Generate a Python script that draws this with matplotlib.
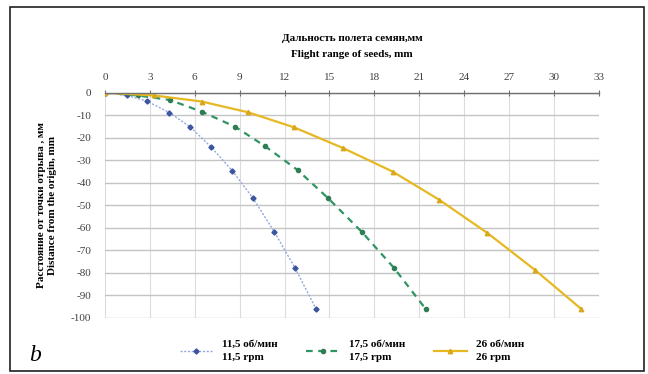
import matplotlib.pyplot as plt
from matplotlib.patches import Rectangle

# values (x = flight range, y = drop from origin), mm
x_115 = [0, 1.45, 2.83, 4.3, 5.68, 7.08, 8.5, 9.9, 11.31, 12.71, 14.11]
y_115 = [0, -1.2, -3.8, -8.8, -15.1, -24.0, -34.6, -46.9, -61.7, -77.9, -96.1]
x_175 = [0, 2.2, 4.34, 6.46, 8.7, 10.69, 12.87, 14.92, 17.15, 19.33, 21.44]
y_175 = [0, -1.2, -3.2, -8.4, -15.1, -23.7, -34.3, -46.9, -61.7, -77.9, -96.1]
x_26 = [0, 3.3, 6.46, 9.58, 12.65, 15.92, 19.22, 22.33, 25.56, 28.72, 31.84]
y_26 = [0, -1.2, -3.9, -8.7, -15.4, -24.6, -35.0, -47.5, -62.3, -78.6, -96.1]

labels = ['11,5 об/мин\n11,5 rpm', '17,5 об/мин\n17,5 rpm', '26 об/мин\n26 rpm']
x_ticks = list(range(0, 34, 3))
y_ticks = list(range(0, -101, -10))

serif = ['Liberation Serif', 'DejaVu Serif']
plt.rcParams['axes.unicode_minus'] = False

fig = plt.figure(figsize=(6.48, 3.74), dpi=100)
ax = fig.add_axes([0.162, 0.150, 0.762, 0.602])

ax.plot(x_115, y_115, color='#93a9dd', lw=1.0, ls=(0, (1.5, 1.2)), marker='D',
        ms=2.6, mfc='#3c559f', mec='#3c559f', label=labels[0])
ax.plot(x_175, y_175, color='#2f9463', lw=1.6, ls=(0, (3, 2.5)), marker='o',
        ms=3.0, mfc='#2f7d55', mec='#2f7d55', label=labels[1])
ax.plot(x_26, y_26, color='#e6b822', lw=1.6, ls='-', marker='^',
        ms=3.2, mfc='#d9a81a', mec='#d9a81a', label=labels[2])

ax.set_xlim(0, 33)
ax.set_ylim(-100, 0)
ax.set_xticks(x_ticks)
ax.set_yticks(y_ticks)
ax.xaxis.tick_top()
ax.xaxis.set_label_position('top')
ax.tick_params(axis='x', direction='inout', length=5, color='#707070',
               labelsize=8, labelcolor='#404040', pad=5)
ax.tick_params(axis='y', length=0, labelsize=8, labelcolor='#404040', pad=10)
for lab in ax.get_xticklabels() + ax.get_yticklabels():
    lab.set_family(serif)

ax.grid(axis='y', color='#c4c4c4', lw=1.0)
ax.grid(axis='x', color='#dcdcdc', lw=0.8)
ax.set_axisbelow(True)
for side in ['left', 'right', 'bottom']:
    ax.spines[side].set_visible(False)
ax.spines['top'].set_color('#707070')
ax.spines['top'].set_linewidth(1.0)

ax.set_xlabel('Дальность полета семян,мм\nFlight range of seeds, mm',
              family=serif, fontweight='bold', fontsize=8, labelpad=12,
              linespacing=1.9)
ax.set_ylabel('Расстояние от точки отрыва , мм\nDistance from the origin, mm',
              family=serif, fontweight='bold', fontsize=8, labelpad=10,
              linespacing=1.3)

leg = ax.legend(loc='upper center', bbox_to_anchor=(0.5, -0.055), ncol=3,
                frameon=False, handlelength=3, columnspacing=2.6,
                labelspacing=0.8,
                prop={'family': serif, 'weight': 'bold', 'size': 8})
for t in leg.get_texts():
    t.set_linespacing(1.6)

fig.text(0.045, 0.035, 'b', family=serif, style='italic', fontsize=17)
fig.patches.append(Rectangle((0.016, 0.008), 0.978, 0.972, transform=fig.transFigure,
                             fill=False, ec='#202020', lw=1.2))

fig.savefig('out.png', dpi=100)
